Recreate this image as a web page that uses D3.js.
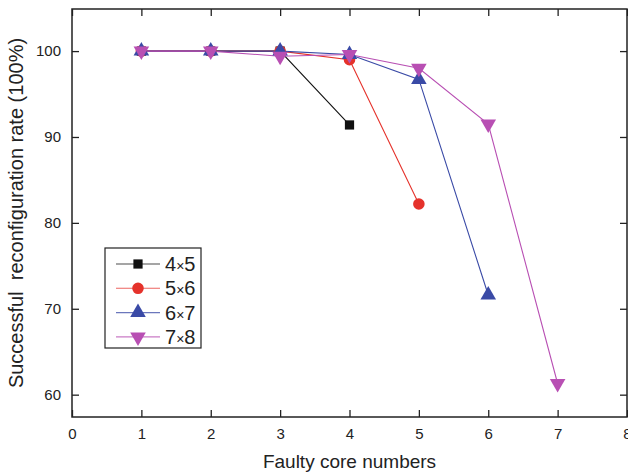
<!DOCTYPE html>
<html>
<head>
<meta charset="utf-8">
<title>Successful reconfiguration rate</title>
<script src="https://d3js.org/d3.v7.min.js"></script>
<style>
  body { margin: 0; background: #fff; font-family: "Liberation Sans", Arial, sans-serif; }
</style>
</head>
<body>
<svg id="chart"></svg>
<script>
// data
var faults = [1, 2, 3, 4, 5, 6, 7];
var rate4x5 = [100, 100, 100, 91.4];
var rate5x6 = [100, 100, 100, 99.0, 82.2];
var rate6x7 = [100, 100, 100, 99.6, 96.7, 71.6];
var rate7x8 = [100, 100, 99.4, 99.6, 98.0, 91.5, 61.3];
var seriesNames = ["4\u00d75", "5\u00d76", "6\u00d77", "7\u00d78"];
var seriesColors = ["#111111", "#e5322b", "#3a4aa6", "#b84fb3"];
var seriesSymbols = [d3.symbolSquare, d3.symbolCircle, d3.symbolTriangle, "down"];
var xTicks = [0, 1, 2, 3, 4, 5, 6, 7, 8];
var yTicks = [60, 70, 80, 90, 100];

var W = 628, H = 472;
var margin = {top: 9, right: 1, bottom: 55, left: 72};
var width = W - margin.left - margin.right,
    height = H - margin.top - margin.bottom;

var svg = d3.select("#chart").attr("width", W).attr("height", H);
var g = svg.append("g").attr("transform", "translate(" + margin.left + "," + margin.top + ")");

var x = d3.scaleLinear().domain([0, 8]).range([0, width]);
var y = d3.scaleLinear().domain([57.4, 104.9]).range([height, 0]);

var allSeries = [rate4x5, rate5x6, rate6x7, rate7x8].map(function(vals, i) {
  return {
    name: seriesNames[i], color: seriesColors[i], symbol: seriesSymbols[i],
    points: vals.map(function(v, j) { return [faults[j], v]; })
  };
});

// axes, ticks pointing inwards
var tickLen = 7;
g.append("g").attr("transform", "translate(0," + height + ")")
  .call(d3.axisBottom(x).tickValues(xTicks).tickSize(-tickLen).tickPadding(11).tickFormat(d3.format("d")))
  .call(styleAxis);
g.append("g")
  .call(d3.axisTop(x).tickValues(xTicks).tickSize(-tickLen).tickFormat(""))
  .call(styleAxis);
g.append("g")
  .call(d3.axisLeft(y).tickValues(yTicks).tickSize(-tickLen).tickPadding(11))
  .call(styleAxis);
g.append("g").attr("transform", "translate(" + width + ",0)")
  .call(d3.axisRight(y).tickValues(yTicks).tickSize(-tickLen).tickFormat(""))
  .call(styleAxis);

function styleAxis(sel) {
  sel.select(".domain").remove();
  sel.selectAll(".tick line").attr("stroke", "#222").attr("stroke-width", 1.3);
  sel.selectAll(".tick text").attr("fill", "#222").style("font-size", "15px")
    .style("font-family", "'Liberation Sans', Arial, sans-serif");
}

// frame
g.append("rect").attr("x", 0).attr("y", 0).attr("width", width).attr("height", height)
  .attr("fill", "none").attr("stroke", "#222").attr("stroke-width", 1.5);

function symbolPath(sym, size) {
  if (sym === "down") {
    return d3.symbol().type(d3.symbolTriangle).size(size)();
  }
  return d3.symbol().type(sym).size(size)();
}
function symbolSize(sym) {
  if (sym === d3.symbolSquare) return 85;
  return 105;
}

var line = d3.line().x(function(d) { return x(d[0]); }).y(function(d) { return y(d[1]); });

allSeries.forEach(function(s) {
  g.append("path").datum(s.points).attr("d", line)
    .attr("fill", "none").attr("stroke", s.color).attr("stroke-width", 1.1);
});
allSeries.forEach(function(s) {
  g.selectAll(null).data(s.points).enter().append("path")
    .attr("d", symbolPath(s.symbol, symbolSize(s.symbol)))
    .attr("transform", function(d) {
      return "translate(" + x(d[0]) + "," + y(d[1]) + ")" + (s.symbol === "down" ? " rotate(180)" : "");
    })
    .attr("fill", s.color);
});

// legend
var legend = svg.append("g").attr("transform", "translate(105,248)");
legend.append("rect").attr("width", 96).attr("height", 100)
  .attr("fill", "#fff").attr("stroke", "#222").attr("stroke-width", 1.2);
allSeries.forEach(function(s, i) {
  var ly = 16 + i * 24.3;
  var row = legend.append("g").attr("transform", "translate(0," + ly + ")");
  row.append("line").attr("x1", 11).attr("x2", 55).attr("y1", 0).attr("y2", 0)
    .attr("stroke", s.color).attr("stroke-width", 1.1).attr("stroke-opacity", 0.75);
  row.append("path").attr("d", symbolPath(s.symbol, symbolSize(s.symbol)))
    .attr("transform", "translate(33,0)" + (s.symbol === "down" ? " rotate(180)" : ""))
    .attr("fill", s.color);
  var t = row.append("text").attr("x", 60).attr("y", 7)
    .attr("fill", "#222").style("font-size", "20px");
  var parts = s.name.split("\u00d7");
  t.append("tspan").text(parts[0]);
  t.append("tspan").style("font-size", "14px").text("\u00d7");
  t.append("tspan").text(parts[1]);
});

// axis titles
svg.append("text").attr("x", margin.left + x(4)).attr("y", 468)
  .attr("text-anchor", "middle").attr("fill", "#222").style("font-size", "19px")
  .text("Faulty core numbers");
svg.append("text")
  .attr("transform", "translate(23," + (margin.top + height / 2) + ") rotate(-90)")
  .attr("text-anchor", "middle").attr("fill", "#222").style("font-size", "20px")
  .style("white-space", "pre")
  .text("Successful  reconfiguration rate (100%)");
</script>
</body>
</html>
